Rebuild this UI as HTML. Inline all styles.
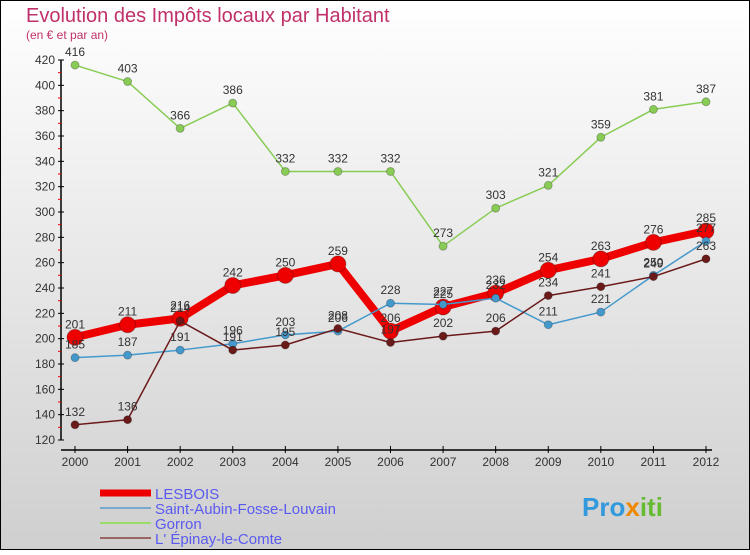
<!DOCTYPE html>
<html><head><meta charset="utf-8"><style>
body{margin:0;}
svg text{font-family:"Liberation Sans",sans-serif;}
</style></head><body>
<svg id="c" width="750" height="550" xmlns="http://www.w3.org/2000/svg">
<defs><linearGradient id="bg" x1="0" y1="0" x2="0" y2="1"><stop offset="0" stop-color="#ffffff"/><stop offset="1" stop-color="#cfcfcf"/></linearGradient></defs>
<rect x="0.5" y="0.5" width="749" height="549" fill="url(#bg)" stroke="#000"/>
<text x="26" y="22" font-size="20" fill="#c0306a">Evolution des Impôts locaux par Habitant</text>
<text x="26" y="39" font-size="12" fill="#c0306a">(en € et par an)</text>
<g id="axes"></g><g id="series"></g><g id="legend"></g>
<text x="582" y="516" font-size="26" font-weight="bold" fill="#3399dd">Pro<tspan fill="#ee8800">x</tspan><tspan fill="#66bb33">iti</tspan></text>
</svg>
<script>
const years=[2000,2001,2002,2003,2004,2005,2006,2007,2008,2009,2010,2011,2012];
const yTicks=[120,140,160,180,200,220,240,260,280,300,320,340,360,380,400,420];
const lesbois=[201,211,216,242,250,259,206,225,236,254,263,276,285];
const saintAubin=[185,187,191,196,203,206,228,227,232,211,221,250,277];
const gorron=[416,403,366,386,332,332,332,273,303,321,359,381,387];
const epinay=[132,136,214,191,195,208,197,202,206,234,241,249,263];
const NS="http://www.w3.org/2000/svg";
const X=i=>75+i*(631/12);
const Y=v=>60+(420-v)*380/300;
function mk(tag,attrs,parent,text){const e=document.createElementNS(NS,tag);for(const k in attrs)e.setAttribute(k,attrs[k]);if(text!==undefined)e.textContent=text;parent.appendChild(e);return e;}
const ax=document.getElementById('axes');
let e=mk('line',{x1:61,y1:Y(420),x2:61,y2:Y(120),stroke:'#000','stroke-width':1.5},ax);


e=mk('line',{x1:61,y1:450,x2:712,y2:450,stroke:'#000','stroke-width':1.5},ax);


yTicks.forEach(v=>{
  mk('line',{x1:58,y1:Y(v),x2:64,y2:Y(v),stroke:'#000'},ax);
  if(v<420) mk('line',{x1:58,y1:Y(v+10),x2:61,y2:Y(v+10),stroke:'#e00'},ax);
  const t=mk('text',{x:55,y:Y(v)+4,'font-size':12,'text-anchor':'end',fill:'#333'},ax,String(v));
  
  
});
years.forEach((y,i)=>{
  mk('line',{x1:X(i),y1:446,x2:X(i),y2:453,stroke:'#000'},ax);
  const t=mk('text',{x:X(i),y:466,'font-size':12,'text-anchor':'middle',fill:'#333'},ax,String(y));
  
  
});
const sg=document.getElementById('series');
function draw(vals,color,w,r,name){
  const g=mk('g',{},sg);
  
  
  const p=mk('polyline',{points:vals.map((v,i)=>X(i)+','+Y(v)).join(' '),fill:'none',stroke:color,'stroke-width':w,'stroke-linejoin':'round'},g);
  
  
  vals.forEach((v,i)=>{
    const c=mk('circle',{cx:X(i),cy:Y(v),r:r,fill:color,stroke:'rgba(0,0,0,0.25)'},g);
    
    
    const t=mk('text',{x:X(i),y:Y(v)-9,'font-size':12,'text-anchor':'middle',fill:'#333'},g,String(v));
    
    
  });
}
draw(gorron,'#88cc55',1.5,4,'gorron');
draw(lesbois,'#ee0000',8,8,'lesbois');
draw(saintAubin,'#4499cc',1.5,4,'saint-aubin');
draw(epinay,'#6b1a1a',1.5,4,'epinay');
const lg=document.getElementById('legend');
const items=[['LESBOIS','#ee0000',7],['Saint-Aubin-Fosse-Louvain','#77aacc',2],['Gorron','#99dd66',2],['L\' Épinay-le-Comte','#996666',2]];
items.forEach((it,k)=>{
  const y=493+k*15;
  const l=mk('line',{x1:100,y1:y,x2:151,y2:y,stroke:it[1],'stroke-width':it[2]},lg);
  
  
  const t=mk('text',{x:155,y:y+6,'font-size':15,fill:'#5a5af0'},lg,it[0]);
  
  
});
</script>
</body></html>
